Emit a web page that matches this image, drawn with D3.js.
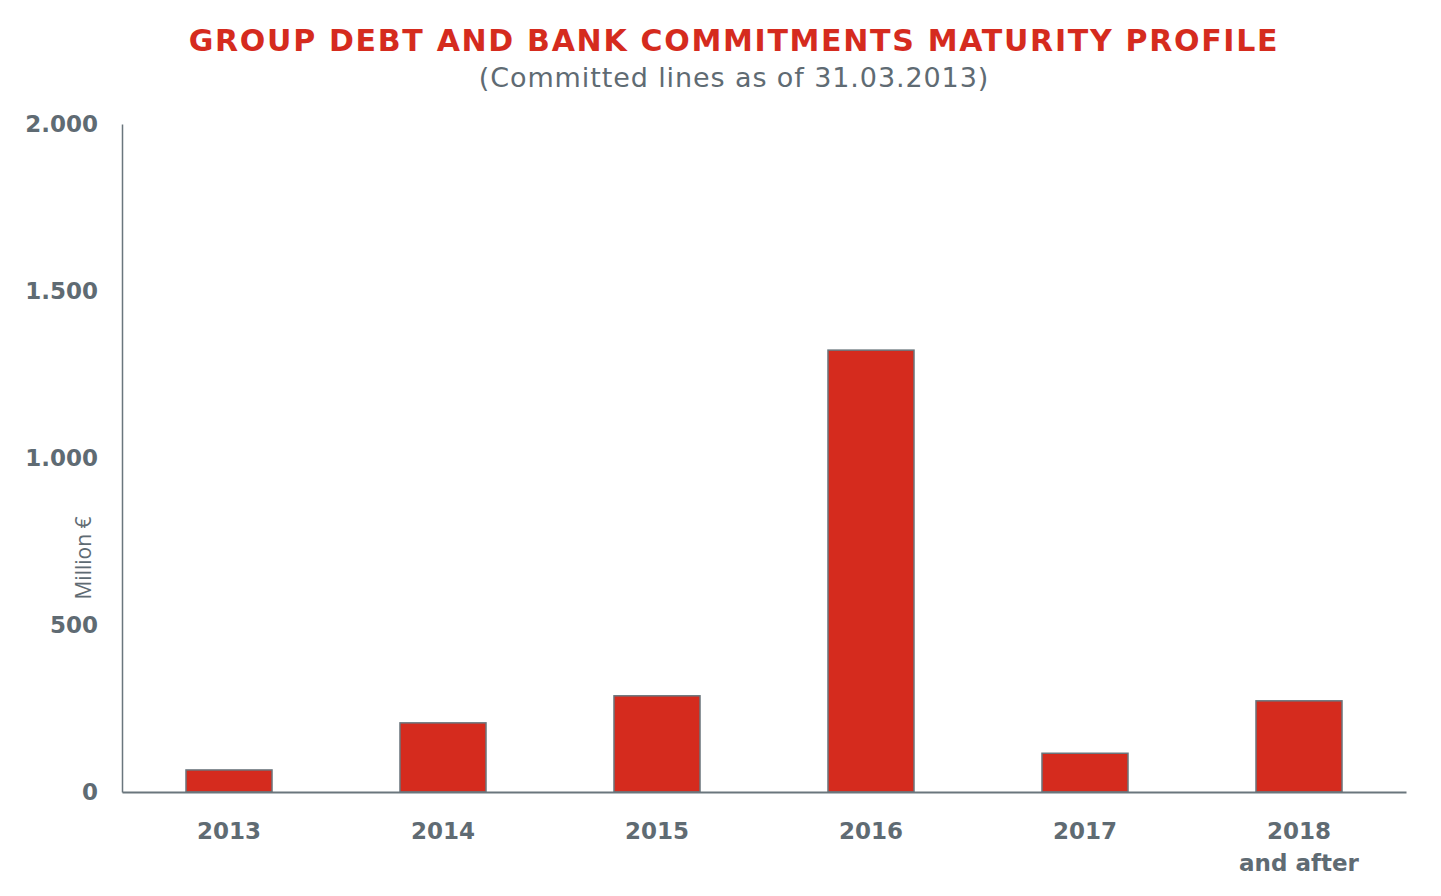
<!DOCTYPE html>
<html>
<head>
<meta charset="utf-8">
<script src="https://cdn.jsdelivr.net/npm/d3@7"></script>
<style>
  html, body { margin: 0; padding: 0; background: #ffffff; }
  svg { display: block; }
</style>
</head>
<body>
<div id="chart"></div>
<script>
// Maturity profile, million €
const years = ["2013", "2014", "2015", "2016", "2017", "2018"];
const yearSubLabels = ["", "", "", "", "", "and after"];
const amounts = [66, 207, 288, 1323, 116, 273];
const yTicks = [0, 500, 1000, 1500, 2000];

const W = 1441, H = 896;
const margin = { left: 122, right: 35, top: 124, bottom: 104 };
const red = "#d52b1e";
const grey = "#5f6b73";
const axisGrey = "#6a767d";

const svg = d3.select("#chart").append("svg")
  .attr("width", W).attr("height", H);

const x = d3.scaleBand()
  .domain(years)
  .range([margin.left, W - margin.right])
  .paddingInner(0.598)
  .paddingOuter(0.299);

const y = d3.scaleLinear()
  .domain([0, 2000])
  .range([H - margin.bottom, margin.top]);

// Title block
svg.append("text")
  .attr("x", 734).attr("y", 51)
  .attr("text-anchor", "middle")
  .attr("font-family", "DejaVu Sans, Verdana, sans-serif")
  .attr("font-weight", "bold")
  .attr("font-size", 30)
  .attr("letter-spacing", 1.7)
  .attr("fill", red)
  .text("GROUP DEBT AND BANK COMMITMENTS MATURITY PROFILE");

svg.append("text")
  .attr("x", 734).attr("y", 87)
  .attr("text-anchor", "middle")
  .attr("font-family", "DejaVu Sans, Verdana, sans-serif")
  .attr("font-size", 27)
  .attr("letter-spacing", 0.9)
  .attr("fill", grey)
  .text("(Committed lines as of 31.03.2013)");

// Y axis
const fmt = d3.format(",");
const yAxis = svg.append("g")
  .attr("transform", `translate(${margin.left},0)`)
  .call(d3.axisLeft(y).tickValues(yTicks).tickSize(0).tickPadding(24)
    .tickFormat(d => fmt(d).replace(/,/g, ".")));
yAxis.select(".domain").attr("stroke", axisGrey).attr("stroke-width", 1.5);
yAxis.selectAll("text")
  .attr("font-family", "DejaVu Sans, Verdana, sans-serif")
  .attr("font-weight", "bold")
  .attr("font-size", 23)
  .attr("fill", grey);

// Y axis title
svg.append("text")
  .attr("transform", `translate(91,558) rotate(-90)`)
  .attr("text-anchor", "middle")
  .attr("font-family", "Open Sans, DejaVu Sans, sans-serif")
  .attr("font-size", 21)
  .attr("fill", grey)
  .text("Million €");

// Bars
svg.append("g").selectAll("rect")
  .data(years.map((yr, i) => ({ yr, v: amounts[i] })))
  .join("rect")
  .attr("x", d => x(d.yr))
  .attr("y", d => y(d.v))
  .attr("width", x.bandwidth())
  .attr("height", d => y(0) - y(d.v))
  .attr("fill", red)
  .attr("stroke", axisGrey)
  .attr("stroke-width", 1.5);

// X axis
const xAxis = svg.append("g")
  .attr("transform", `translate(0,${y(0)})`)
  .call(d3.axisBottom(x).tickSize(0).tickPadding(0).tickFormat(""));
xAxis.select(".domain").attr("stroke", axisGrey).attr("stroke-width", 2);

const labels = svg.append("g").selectAll("text")
  .data(years.map((yr, i) => ({ yr, sub: yearSubLabels[i] })))
  .join("text")
  .attr("x", d => x(d.yr) + x.bandwidth() / 2)
  .attr("y", y(0) + 47)
  .attr("text-anchor", "middle")
  .attr("font-family", "DejaVu Sans, Verdana, sans-serif")
  .attr("font-weight", "bold")
  .attr("font-size", 23)
  .attr("fill", grey);
labels.append("tspan").text(d => d.yr);
labels.filter(d => d.sub).append("tspan")
  .attr("x", d => x(d.yr) + x.bandwidth() / 2)
  .attr("dy", 32)
  .text(d => d.sub);
</script>
</body>
</html>
